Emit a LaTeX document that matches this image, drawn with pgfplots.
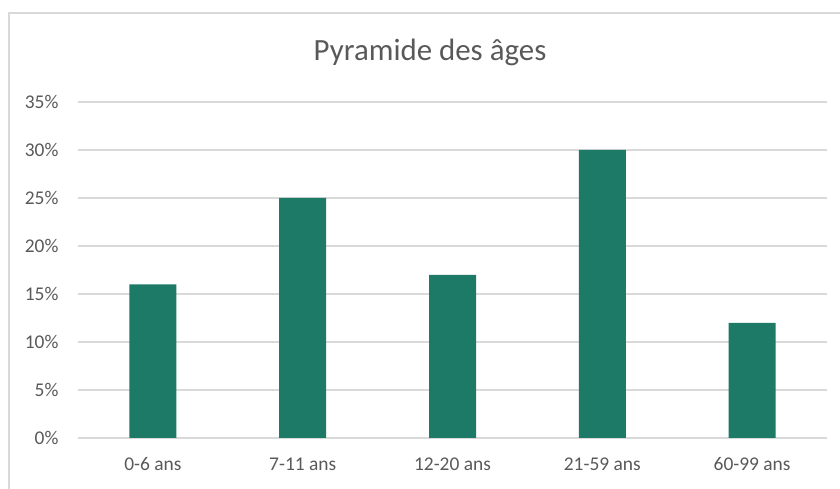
\documentclass[border=0pt]{standalone}
\usepackage{pgfplots}
\pgfplotsset{compat=1.18}
\usepackage{fontspec}
\setmainfont{Carlito}
\definecolor{barcol}{HTML}{1C7A66}
\definecolor{gridc}{HTML}{D9D9D9}
\definecolor{txt}{HTML}{595959}
\begin{document}
\begin{tikzpicture}[x=1bp,y=1bp]
\path[use as bounding box] (0,0) rectangle (840,489);
\draw[gridc, line width=1.5bp] (9,-5) -- (9,476) -- (845,476);
\begin{axis}[
  at={(78bp,51bp)}, anchor=south west,
  width=749bp, height=336bp, scale only axis,
  xmin=-0.5, xmax=4.5, ymin=0, ymax=35,
  xtick=data, xticklabels={0-6 ans,7-11 ans,12-20 ans,21-59 ans,60-99 ans},
  ytick={0,5,...,35},
  yticklabel={\pgfmathprintnumber{\tick}\%},
  /pgf/number format/assume math mode=true,
  axis line style={draw=none},
  major tick length=0pt,
  ymajorgrids, grid style={gridc, line width=1.2bp},
  tick label style={font=\fontsize{19.5}{21}\selectfont, text=txt},
  yticklabel style={xshift=-16bp},
  xticklabel style={yshift=-16bp},
  ybar, bar width=47bp,
]
\addplot[fill=barcol, draw=none] coordinates {(0,16) (1,25) (2,17) (3,30) (4,12)};
\end{axis}
\node[text=txt, font=\fontsize{31}{34}\selectfont] at (430,437) {Pyramide des âges};
\end{tikzpicture}
\end{document}
